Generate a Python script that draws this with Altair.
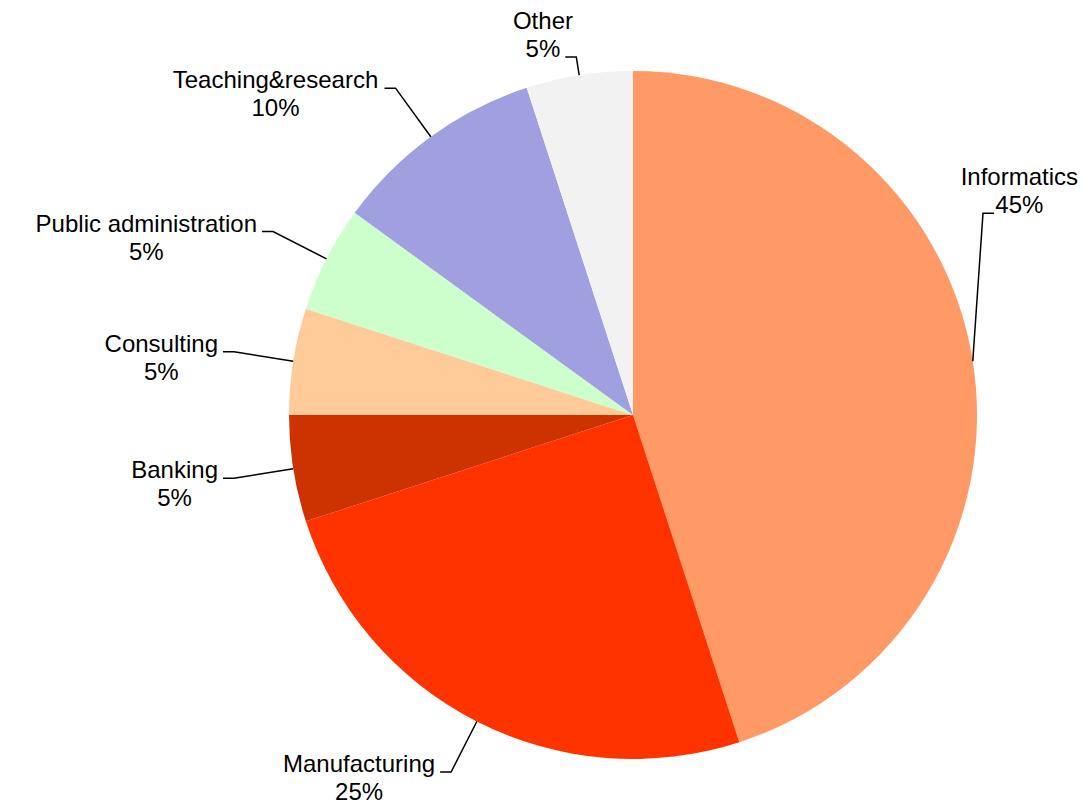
import math
import altair as alt
import pandas as pd

# ---- data ----
categories = ["Informatics", "Manufacturing", "Banking", "Consulting",
              "Public administration", "Teaching&research", "Other"]
shares = [45, 25, 5, 5, 5, 10, 5]
colors = ["#FF9966", "#FF3300", "#CC3300", "#FFCC99", "#CCFFCC", "#A09FDF", "#F2F2F2"]

# ---- layout constants ----
W, H = 1073, 796
CX, CY = 625, 407          # pie centre inside the view
R = 344                    # pie radius
R_LAB = 404                # radius of leader-line elbows
TOP_MIN = 49               # elbow may not go above this
BOTTOM_MAX = 764           # elbow may not go below this
X_MAX = 350                # elbow may not go further right than CX + X_MAX
HOOK = 11                  # horizontal part of the leader line
GAP = 5
FONT = "Liberation Sans, Arial, Helvetica, sans-serif"
FS = 24
LH = 28

ARIAL = {"A": 667, "B": 667, "C": 722, "I": 278, "M": 833, "O": 778, "P": 667, "T": 611,
         "a": 556, "b": 556, "c": 500, "d": 556, "e": 556, "f": 278, "g": 556, "h": 556,
         "i": 222, "k": 500, "l": 222, "m": 833, "n": 556, "o": 556, "r": 333, "s": 500,
         "t": 278, "u": 556, "&": 667, "%": 889, " ": 278}


def text_width(s):
    return sum(ARIAL.get(c, 556) for c in s) * FS / 1000.0


total = sum(shares)
pie_df = pd.DataFrame({"category": categories, "share": shares,
                       "order": list(range(len(categories)))})

line_rows, text_rows = [], []
cum = 0
for cat, v in zip(categories, shares):
    mid = 2 * math.pi * (cum + v / 2) / total
    cum += v
    sx, sy = CX + R * math.sin(mid), CY - R * math.cos(mid)
    ex, ey = CX + R_LAB * math.sin(mid), CY - R_LAB * math.cos(mid)
    above = False
    if ey < TOP_MIN:
        f = (CY - TOP_MIN) / (CY - ey)
        ex, ey = CX + (ex - CX) * f, TOP_MIN
        above = True
    if ey > BOTTOM_MAX:
        f = (BOTTOM_MAX - CY) / (ey - CY)
        ex, ey = CX + (ex - CX) * f, BOTTOM_MAX
    if ex > CX + X_MAX:
        ex = CX + X_MAX
        sgn = -1 if math.cos(mid) > 0 else 1
        ey = CY + sgn * math.sqrt(R_LAB ** 2 - X_MAX ** 2)
        above = True
    side = 1 if ex >= CX else -1
    hx = ex + side * HOOK
    for i, (px, py) in enumerate([(sx, sy), (ex, ey), (hx, ey)]):
        line_rows.append({"category": cat, "seq": i, "px": px, "py": py})
    pct = f"{v}%"
    attached = pct if above else cat
    tx = hx + side * (GAP + text_width(attached) / 2)
    half = max(text_width(cat), text_width(pct)) / 2
    tx = min(max(tx, half + 2), W - half - 3)
    if above:
        y_pct = ey - 7
        y_name = y_pct - LH
    else:
        y_name = ey - 7
        y_pct = y_name + LH
    text_rows.append({"text": cat, "x": tx, "y": y_name})
    text_rows.append({"text": pct, "x": tx, "y": y_pct})

lines_df = pd.DataFrame(line_rows)
text_df = pd.DataFrame(text_rows)

arc = alt.Chart(pie_df).mark_arc(outerRadius=R).encode(
    theta=alt.Theta("share:Q", stack=True),
    order=alt.Order("order:O"),
    color=alt.Color("category:N", scale=alt.Scale(domain=categories, range=colors), legend=None),
    x=alt.value(CX),
    y=alt.value(CY),
)

lines = alt.Chart(lines_df).mark_line(color="black", strokeWidth=1.5).encode(
    x=alt.X("px:Q", scale=None, axis=None),
    y=alt.Y("py:Q", scale=None, axis=None),
    detail="category:N",
    order="seq:O",
)

texts = alt.Chart(text_df).mark_text(font=FONT, fontSize=FS, align="center",
                                     baseline="middle", color="black").encode(
    x=alt.X("x:Q", scale=None, axis=None),
    y=alt.Y("y:Q", scale=None, axis=None),
    text="text:N",
)

chart = alt.layer(arc, lines, texts).properties(
    width=W, height=H, padding=0,
    autosize=alt.AutoSizeParams(type="none"),
).configure_view(stroke=None)

chart.save("out.html", embed_options={"renderer": "svg", "actions": False})
